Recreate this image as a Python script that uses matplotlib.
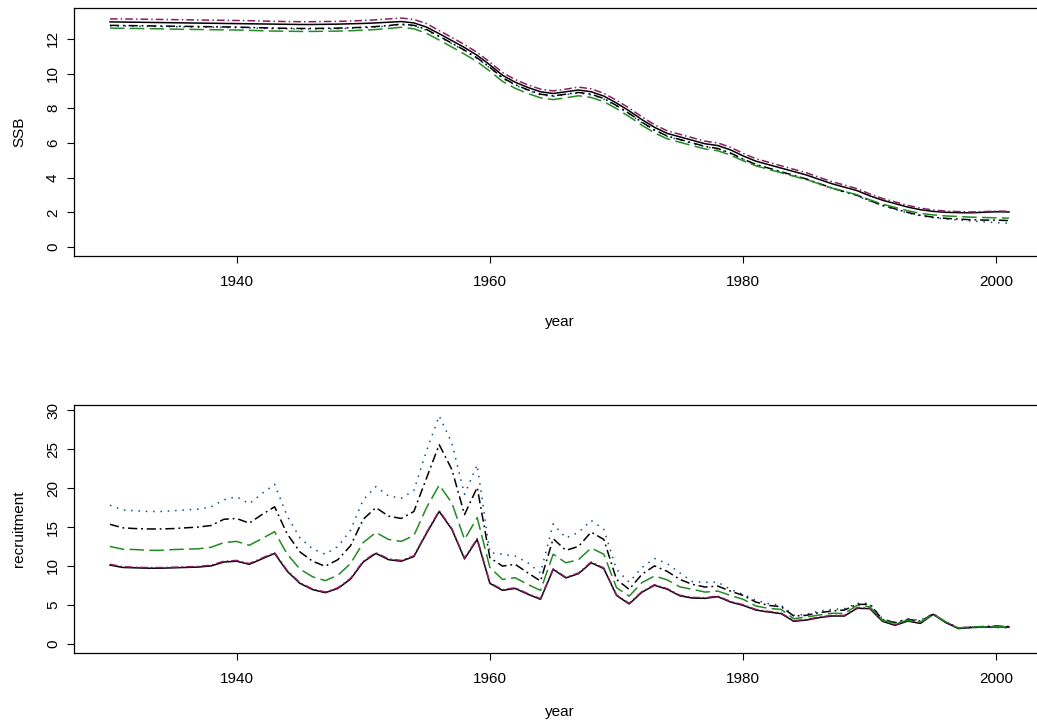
import numpy as np
import matplotlib
matplotlib.use("Agg")
import matplotlib.pyplot as plt

plt.rcParams['font.family'] = ['Liberation Sans', 'DejaVu Sans']

years = np.arange(1930, 2002)

# spawning stock biomass, one list per run
ssb_base = [12.98, 12.97, 12.96, 12.95, 12.94, 12.93, 12.92, 12.91, 12.90, 12.89,
            12.88, 12.87, 12.86, 12.85, 12.84, 12.83, 12.83, 12.84, 12.85, 12.87,
            12.89, 12.92, 12.96, 13.00, 12.92, 12.68, 12.30, 11.90, 11.50, 11.05,
            10.50, 9.90, 9.50, 9.20, 8.95, 8.85, 8.95, 9.05, 8.95, 8.70,
            8.30, 7.85, 7.35, 6.90, 6.55, 6.35, 6.15, 5.95, 5.85, 5.60,
            5.25, 4.95, 4.75, 4.55, 4.35, 4.15, 3.90, 3.65, 3.45, 3.25,
            2.95, 2.70, 2.50, 2.30, 2.15, 2.05, 2.00, 1.98, 1.97, 2.00,
            2.03, 2.02]
ssb_maroon = [13.15, 13.15, 13.14, 13.13, 13.12, 13.11, 13.10, 13.09, 13.08, 13.07,
              13.06, 13.05, 13.03, 13.01, 13.00, 12.99, 12.99, 13.00, 13.01, 13.03,
              13.06, 13.10, 13.15, 13.20, 13.12, 12.88, 12.48, 12.08, 11.67, 11.22,
              10.66, 10.06, 9.65, 9.35, 9.10, 9.00, 9.10, 9.22, 9.12, 8.86,
              8.46, 8.01, 7.51, 7.05, 6.70, 6.50, 6.30, 6.10, 6.00, 5.75,
              5.40, 5.09, 4.89, 4.68, 4.48, 4.28, 4.02, 3.77, 3.57, 3.36,
              3.06, 2.80, 2.60, 2.40, 2.24, 2.13, 2.07, 2.04, 2.02, 2.04,
              2.07, 2.06]
ssb_dashdot = [12.78, 12.77, 12.76, 12.75, 12.74, 12.73, 12.72, 12.71, 12.70, 12.69,
               12.68, 12.66, 12.64, 12.62, 12.61, 12.60, 12.60, 12.61, 12.62, 12.64,
               12.67, 12.71, 12.77, 12.85, 12.78, 12.54, 12.15, 11.75, 11.35, 10.90,
               10.36, 9.76, 9.36, 9.06, 8.81, 8.71, 8.81, 8.91, 8.81, 8.56,
               8.16, 7.70, 7.20, 6.75, 6.40, 6.20, 6.00, 5.80, 5.68, 5.42,
               5.07, 4.76, 4.55, 4.34, 4.13, 3.92, 3.66, 3.40, 3.19, 2.98,
               2.67, 2.41, 2.20, 1.99, 1.83, 1.72, 1.65, 1.61, 1.57, 1.55,
               1.55, 1.52]
ssb_dotted = [12.75, 12.74, 12.73, 12.72, 12.71, 12.70, 12.69, 12.68, 12.67, 12.66,
              12.65, 12.63, 12.61, 12.59, 12.58, 12.57, 12.57, 12.58, 12.59, 12.61,
              12.64, 12.68, 12.74, 12.82, 12.75, 12.50, 12.12, 11.72, 11.32, 10.87,
              10.33, 9.73, 9.33, 9.03, 8.78, 8.68, 8.78, 8.88, 8.78, 8.53,
              8.13, 7.67, 7.17, 6.72, 6.37, 6.17, 5.97, 5.77, 5.65, 5.39,
              5.04, 4.73, 4.52, 4.31, 4.10, 3.89, 3.63, 3.37, 3.16, 2.95,
              2.64, 2.38, 2.17, 1.96, 1.80, 1.69, 1.61, 1.56, 1.50, 1.45,
              1.40, 1.37]
ssb_green = [12.62, 12.61, 12.60, 12.59, 12.58, 12.56, 12.55, 12.54, 12.53, 12.52,
             12.51, 12.49, 12.47, 12.45, 12.44, 12.43, 12.43, 12.44, 12.45, 12.47,
             12.50, 12.54, 12.60, 12.67, 12.58, 12.32, 11.93, 11.53, 11.12, 10.68,
             10.14, 9.55, 9.15, 8.85, 8.60, 8.50, 8.60, 8.72, 8.62, 8.38,
             7.98, 7.52, 7.02, 6.58, 6.24, 6.04, 5.84, 5.65, 5.55, 5.30,
             4.97, 4.68, 4.48, 4.28, 4.08, 3.89, 3.64, 3.40, 3.20, 3.01,
             2.72, 2.47, 2.28, 2.09, 1.94, 1.85, 1.79, 1.76, 1.72, 1.70,
             1.68, 1.66]

# recruitment, one list per run
rec_base = [10.1, 9.8, 9.75, 9.7, 9.7, 9.75, 9.8, 9.85, 10.0, 10.5,
            10.6, 10.2, 10.9, 11.6, 9.3, 7.75, 6.95, 6.55, 7.1, 8.3,
            10.5, 11.6, 10.8, 10.6, 11.2, 14.2, 17.0, 14.7, 10.9, 13.4,
            7.75, 6.85, 7.1, 6.35, 5.7, 9.55, 8.45, 9.0, 10.4, 9.65,
            6.2, 5.1, 6.6, 7.5, 7.0, 6.15, 5.86, 5.82, 6.04, 5.35,
            4.92, 4.32, 4.06, 3.86, 2.87, 3.03, 3.34, 3.55, 3.55, 4.54,
            4.5, 2.87, 2.35, 2.9, 2.6, 3.77, 2.7, 1.93, 2.06, 2.13,
            2.13, 2.13]
rec_maroon = [10.2, 9.9, 9.83, 9.78, 9.78, 9.83, 9.88, 9.93, 10.1, 10.6,
              10.7, 10.3, 11.0, 11.7, 9.4, 7.83, 7.03, 6.63, 7.18, 8.4,
              10.6, 11.7, 10.9, 10.7, 11.3, 14.3, 17.1, 14.8, 11.0, 13.5,
              7.83, 6.93, 7.18, 6.43, 5.78, 9.63, 8.53, 9.08, 10.5, 9.73,
              6.28, 5.18, 6.68, 7.58, 7.08, 6.23, 5.94, 5.9, 6.12, 5.43,
              5.0, 4.4, 4.14, 3.94, 2.95, 3.11, 3.42, 3.63, 3.63, 4.62,
              4.58, 2.95, 2.43, 2.98, 2.68, 3.85, 2.78, 2.01, 2.14, 2.21,
              2.21, 2.2]
rec_green = [12.5, 12.15, 12.1, 12.0, 12.0, 12.1, 12.15, 12.2, 12.4, 13.0,
             13.15, 12.65, 13.5, 14.4, 11.5, 9.6, 8.6, 8.1, 8.8, 10.3,
             13.0, 14.3, 13.4, 13.15, 13.9, 17.5, 20.4, 18.1, 13.4, 16.2,
             9.8, 8.26, 8.48, 7.6, 6.85, 11.5, 10.4, 10.8, 12.3, 11.5,
             7.2, 6.1, 7.84, 8.7, 8.2, 7.3, 6.98, 6.63, 6.76, 6.2,
             5.7, 4.84, 4.54, 4.4, 3.2, 3.42, 3.68, 3.9, 3.88, 4.92,
             4.75, 3.03, 2.57, 3.03, 2.78, 3.77, 2.78, 2.0, 2.13, 2.17,
             2.17, 2.13]
rec_dashdot = [15.35, 14.9, 14.8, 14.75, 14.75, 14.8, 14.9, 15.0, 15.2, 16.0,
               16.1, 15.5, 16.6, 17.6, 14.1, 11.8, 10.6, 9.95, 10.8, 12.6,
               16.0, 17.5, 16.4, 16.1, 17.0, 21.3, 25.6, 22.4, 16.6, 20.1,
               11.05, 9.97, 10.2, 9.1, 8.05, 13.5, 12.0, 12.5, 14.35, 13.4,
               8.26, 6.98, 8.9, 10.0, 9.3, 8.26, 7.62, 7.28, 7.4, 6.76,
               6.2, 5.35, 4.92, 4.75, 3.55, 3.64, 3.98, 4.19, 4.32, 5.05,
               5.05, 3.12, 2.7, 3.12, 2.9, 3.77, 2.78, 2.0, 2.13, 2.17,
               2.26, 2.17]
rec_dotted = [17.8, 17.2, 17.1, 17.0, 17.0, 17.1, 17.2, 17.3, 17.6, 18.5,
              18.9, 18.0, 19.3, 20.5, 16.4, 13.6, 12.2, 11.5, 12.5, 14.6,
              18.5, 20.2, 19.0, 18.7, 19.7, 24.8, 29.3, 25.8, 19.2, 23.0,
              11.7, 11.5, 11.26, 10.4, 9.1, 15.4, 13.6, 14.3, 15.85, 14.7,
              9.55, 7.9, 9.77, 10.96, 10.3, 9.1, 7.97, 7.9, 7.9, 6.98,
              6.34, 5.57, 5.14, 4.92, 3.64, 3.77, 4.19, 4.4, 4.5, 5.18,
              5.18, 3.2, 2.7, 3.2, 3.0, 3.86, 2.78, 1.96, 2.06, 2.1,
              2.06, 2.0]

# line look for each run: solid, dotdash, dotted, dashdot, longdash
styles = [
    dict(color='black', ls='-'),
    dict(color='#8B1C62', ls=(0, (5, 2, 1, 2))),
    dict(color='#104E8B', ls=(0, (1, 3.8))),
    dict(color='black', ls=(0, (6, 2.5, 1.2, 2.5))),
    dict(color='#228B22', ls=(0, (9.5, 3.5))),
]

fig = plt.figure(figsize=(10.37, 7.24), dpi=100)
ax1 = fig.add_axes([0.07136, 0.64641, 0.93636, 0.34254])
ax2 = fig.add_axes([0.07136, 0.09848, 0.93636, 0.34213])

panels = [
    (ax1, [ssb_base, ssb_maroon, ssb_dotted, ssb_dashdot, ssb_green], 'SSB',
     (-0.52, 13.78), np.arange(0, 13, 2), -0.266),
    (ax2, [rec_base, rec_maroon, rec_dotted, rec_dashdot, rec_green], 'recruitment',
     (-1.17, 30.7), np.arange(0, 31, 5), -0.238),
]

for ax, series, ylab, ylim, yticks, xlab_y in panels:
    for vals, st in zip(series, styles):
        ax.plot(years, vals, lw=1.1, **st)
    ax.set_xlim(1927.16, 2003.84)
    ax.set_ylim(*ylim)
    ax.set_xticks([1940, 1960, 1980, 2000])
    ax.set_yticks(yticks)
    ax.tick_params(direction='out', length=5, width=0.8, labelsize=11)
    ax.tick_params(axis='x', pad=9)
    ax.tick_params(axis='y', pad=5, labelrotation=90)
    for lbl in ax.get_yticklabels():
        lbl.set_va('center')
    for sp in ax.spines.values():
        sp.set_linewidth(0.9)
    ax.set_xlabel('year', fontsize=11)
    ax.set_ylabel(ylab, fontsize=11)
    ax.xaxis.set_label_coords(0.5, xlab_y)
    ax.xaxis.label.set_va('center')
    ax.yaxis.set_label_coords(-0.0566, 0.5)
    ax.yaxis.label.set_va('center')

plt.savefig('out.png', dpi=100)
